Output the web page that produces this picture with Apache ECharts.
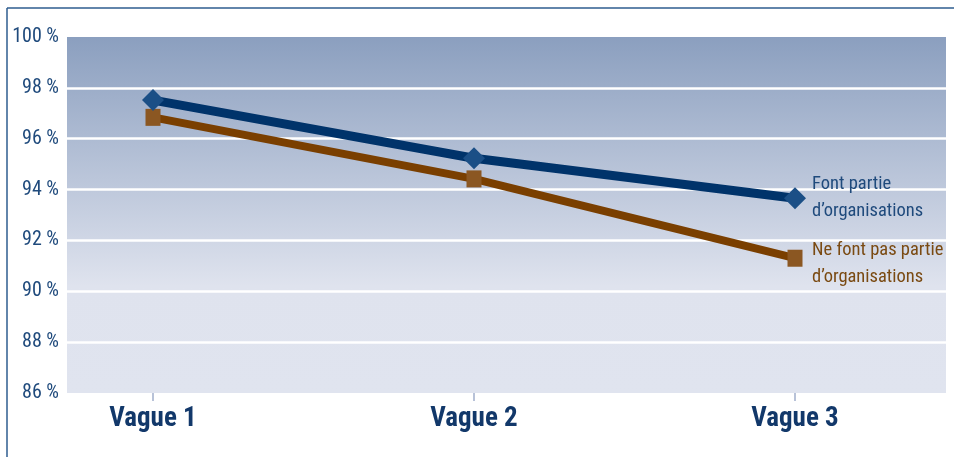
<!DOCTYPE html>
<html>
<head>
<meta charset="utf-8">
<script src="https://cdn.jsdelivr.net/npm/echarts@6/dist/echarts.min.js"></script>
<style>html,body{margin:0;padding:0;background:#fff}#c{width:954px;height:457px}</style>
</head>
<body>
<div id="c"></div>
<script>
var categories = ['Vague 1', 'Vague 2', 'Vague 3'];
var seriesNames = ['Font partie\nd\u2019organisations', 'Ne font pas partie\nd\u2019organisations'];
var membersValues = [97.52, 95.23, 93.66];
var nonMembersValues = [96.84, 94.42, 91.30];
var yMin = 86, yMax = 100, yStep = 2;

var narrow = "'Roboto Condensed', 'Liberation Sans Narrow', sans-serif";
var chart = echarts.init(document.getElementById('c'));
chart.setOption({
  animation: false,
  graphic: [
    { type: 'line', shape: { x1: 7, y1: 8, x2: 954, y2: 8 }, style: { stroke: '#2e5d8f', lineWidth: 1.5 } },
    { type: 'line', shape: { x1: 7, y1: 8, x2: 7, y2: 457 }, style: { stroke: '#2e5d8f', lineWidth: 1.5 } }
  ],
  grid: [
    { left: 67, right: 8, top: 37, bottom: 64, show: true, borderWidth: 0,
      backgroundColor: { type: 'linear', x: 0, y: 0, x2: 0, y2: 1, colorStops: [
        { offset: 0, color: '#8b9fbf' }, { offset: 0.7, color: '#dfe3ee' }, { offset: 1, color: '#e0e4ef' } ] } },
    { left: 153, right: 159, top: 37, bottom: 64 }
  ],
  xAxis: [
    { gridIndex: 0, type: 'value', min: 0, max: 1, show: false },
    { gridIndex: 1, type: 'category', data: categories, boundaryGap: false,
      axisLine: { show: false },
      axisTick: { show: true, length: 8, lineStyle: { color: '#b8c2d8', width: 2 } },
      axisLabel: { margin: 13, fontFamily: narrow, fontWeight: 'bold', fontSize: 27, color: '#12386a' } }
  ],
  yAxis: [
    { gridIndex: 0, type: 'value', min: yMin, max: yMax, interval: yStep,
      axisLine: { show: false }, axisTick: { show: false },
      axisLabel: { margin: 8, fontFamily: narrow, fontSize: 20, color: '#1f4a7c',
        formatter: function (v) { return v + ' %'; } },
      splitLine: { show: true, lineStyle: { width: 2.5,
        color: ['rgba(0,0,0,0)', '#ffffff', '#ffffff', '#ffffff', '#ffffff', '#ffffff', '#ffffff', 'rgba(0,0,0,0)'] } } },
    { gridIndex: 1, type: 'value', min: yMin, max: yMax, interval: yStep, show: false, splitLine: { show: false } }
  ],
  series: [
    { name: seriesNames[1], type: 'line', xAxisIndex: 1, yAxisIndex: 1, data: nonMembersValues,
      symbol: 'rect', symbolSize: [15, 17], showAllSymbol: true,
      lineStyle: { color: '#7a3f00', width: 8 },
      itemStyle: { color: '#8b5722' },
      endLabel: { show: true, formatter: seriesNames[1], distance: 17, offset: [0, 6],
        fontFamily: narrow, fontSize: 18.5, lineHeight: 27, color: '#7a4a12', align: 'left' } },
    { name: seriesNames[0], type: 'line', xAxisIndex: 1, yAxisIndex: 1, data: membersValues,
      symbol: 'diamond', symbolSize: [22, 22], showAllSymbol: true,
      lineStyle: { color: '#00336a', width: 9 },
      itemStyle: { color: '#1b4f86' },
      endLabel: { show: true, formatter: seriesNames[0], distance: 17,
        fontFamily: narrow, fontSize: 18.5, lineHeight: 27, color: '#1f4a7c', align: 'left' } }
  ]
});
</script>
</body>
</html>
